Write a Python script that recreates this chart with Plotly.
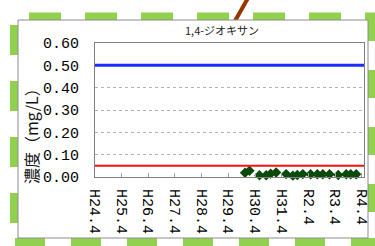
import plotly.graph_objects as go

# ---- data ----
sample_dates = ["2017-11-15", "2018-01-15", "2018-06-01", "2018-09-01", "2018-11-01",
                "2019-01-15", "2019-06-01", "2019-09-01", "2019-11-01", "2020-01-15",
                "2020-05-01", "2020-08-01", "2020-10-15", "2021-01-15", "2021-05-15",
                "2021-09-01", "2021-11-01", "2022-01-15"]
concentration = [0.019, 0.028, 0.008, 0.008, 0.015, 0.020, 0.013, 0.006, 0.009, 0.013,
                 0.012, 0.012, 0.012, 0.012, 0.009, 0.012, 0.012, 0.012]
tick_dates = ["2012-04-01", "2013-04-01", "2014-04-01", "2015-04-01", "2016-04-01",
              "2017-04-01", "2018-04-01", "2019-04-01", "2020-04-01", "2021-04-01",
              "2022-04-01"]
tick_labels = ["H24.4", "H25.4", "H26.4", "H27.4", "H28.4", "H29.4", "H30.4",
               "H31.4", "R2.4", "R3.4", "R4.4"]
y_ticks = [0.0, 0.1, 0.2, 0.3, 0.4, 0.5, 0.6]
y_tick_labels = ["0.00", "0.10", "0.20", "0.30", "0.40", "0.50", "0.60"]
limit_blue = 0.5
limit_red = 0.05
title_text = "1,4-ジオキサン"
y_title = "濃度（mg/L）"

# ---- layout geometry ----
W, H = 375, 246
L, R, T, B = 95, 11, 43, 69
PW, PH = W - L - R, H - T - B


def px(x):
    return (x - L) / PW


def py(y):
    return (H - B - y) / PH


shapes = []
green = "#92d050"
# green dashed frame
shapes.append(dict(type="line", xref="paper", yref="paper", x0=px(29), x1=px(380), y0=py(16.5), y1=py(16.5),
                   line=dict(color=green, width=8, dash="32px,24px"), layer="below"))
shapes.append(dict(type="line", xref="paper", yref="paper", x0=px(14), x1=px(14), y0=py(25), y1=py(250),
                   line=dict(color=green, width=8, dash="30px,26px"), layer="below"))
shapes.append(dict(type="line", xref="paper", yref="paper", x0=px(15), x1=px(380), y0=py(242), y1=py(242),
                   line=dict(color=green, width=8, dash="30px,26px"), layer="below"))
shapes.append(dict(type="line", xref="paper", yref="paper", x0=px(372), x1=px(372), y0=py(13), y1=py(250),
                   line=dict(color=green, width=8, dash="28px,29px"), layer="below"))
# brown connector line
shapes.append(dict(type="line", xref="paper", yref="paper", x0=px(248), x1=px(235), y0=py(-2), y1=py(21),
                   line=dict(color="#993300", width=4), layer="below"))
# white chart box
shapes.append(dict(type="rect", xref="paper", yref="paper", x0=px(18), x1=px(368), y0=py(20), y1=py(238),
                   line=dict(color="#8c8c8c", width=1), fillcolor="white", layer="below"))
# reference lines
shapes.append(dict(type="line", xref="paper", yref="y", x0=0, x1=1, y0=limit_blue, y1=limit_blue,
                   line=dict(color="#1a2cff", width=3)))
shapes.append(dict(type="line", xref="paper", yref="y", x0=0, x1=1, y0=limit_red, y1=limit_red,
                   line=dict(color="#ff1010", width=2)))

fig = go.Figure()
fig.add_trace(go.Scatter(
    x=sample_dates, y=concentration, mode="markers",
    marker=dict(symbol="diamond", size=8, color="#0b4a0b"),
    showlegend=False, cliponaxis=False,
))

fig.update_layout(
    width=W, height=H,
    margin=dict(l=L, r=R, t=T, b=B, pad=0, autoexpand=False),
    paper_bgcolor="white",
    plot_bgcolor="rgba(0,0,0,0)",
    shapes=shapes,
    showlegend=False,
    annotations=[
        dict(text=title_text, xref="paper", yref="paper", x=px(222), y=py(30),
             showarrow=False, xanchor="center", yanchor="middle",
             font=dict(family="Noto Sans CJK JP", size=11, color="#222222")),
        dict(text=y_title, xref="paper", yref="paper", x=px(31), y=py(132),
             showarrow=False, xanchor="center", yanchor="middle", textangle=-90,
             font=dict(family="Noto Sans CJK JP", size=16, color="#111111")),
    ],
)

fig.update_xaxes(
    type="date", automargin=False,
    range=["2012-04-01", "2022-05-02"],
    tickmode="array", tickvals=tick_dates, ticktext=tick_labels,
    tickangle=90,
    ticks="inside", ticklen=4, tickcolor="#a0a0a0",
    showgrid=False, zeroline=False,
    showline=True, linecolor="#808080", linewidth=1, mirror=True,
    ticklabelstandoff=8,
    tickfont=dict(family="Liberation Mono", size=15, color="#000000"),
)
fig.update_yaxes(
    range=[0, 0.6], automargin=False,
    tickmode="array", tickvals=y_ticks, ticktext=y_tick_labels,
    showgrid=True, gridcolor="#b4b4b4", gridwidth=1, griddash="dot",
    zeroline=False,
    showline=True, linecolor="#808080", linewidth=1, mirror=True,
    ticks="", ticklabelstandoff=12,
    tickfont=dict(family="Liberation Mono", size=15, color="#000000"),
)

fig.write_html(
    "out.html",
    config={"displayModeBar": False},
    post_script="document.body.style.margin='0';document.body.style.overflow='hidden';",
)
